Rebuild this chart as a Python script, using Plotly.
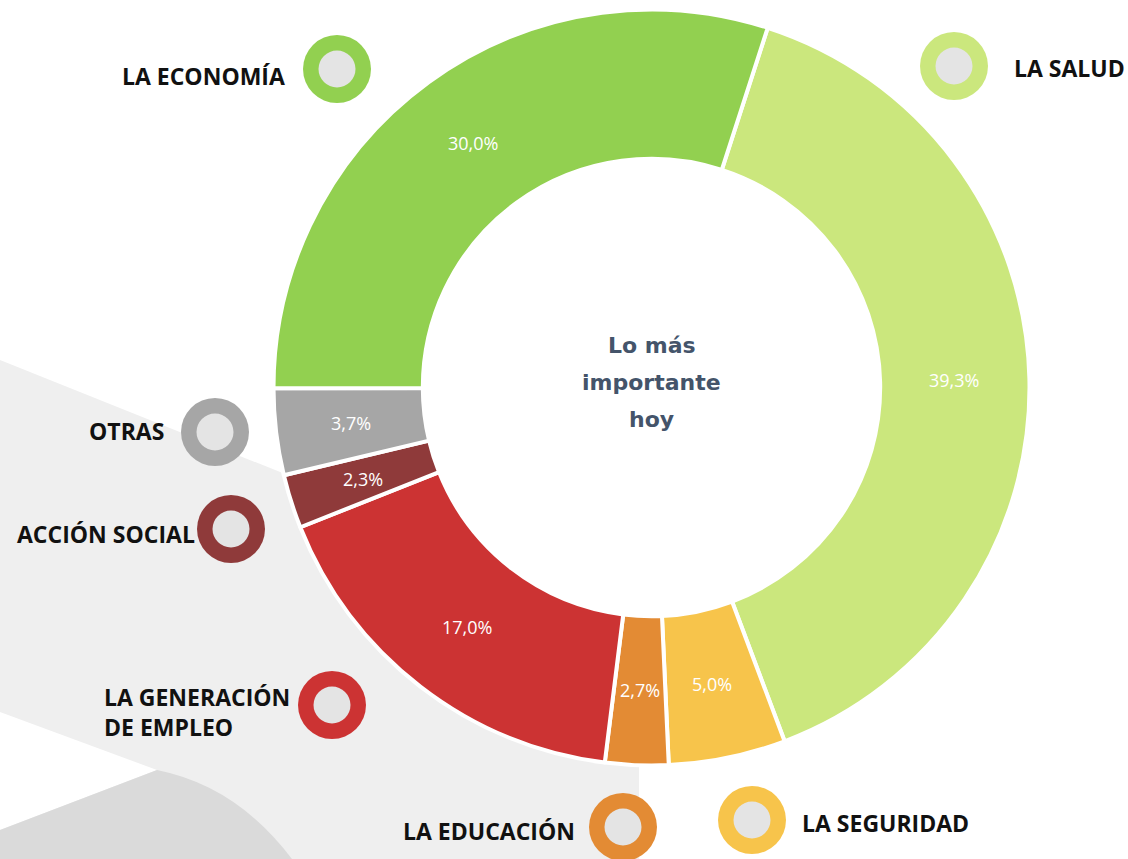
import math
import plotly.graph_objects as go

# ---- data (clockwise from the top) ----
categories = ["LA SALUD", "LA SEGURIDAD", "LA EDUCACIÓN", "LA GENERACIÓN<br>DE EMPLEO",
              "ACCIÓN SOCIAL", "OTRAS", "LA ECONOMÍA"]
values = [39.3, 5.0, 2.7, 17.0, 2.3, 3.7, 30.0]
colors = ["#cbe77d", "#f7c44b", "#e38b34", "#cc3333", "#8f3a3a", "#a6a6a6", "#92d050"]
center_lines = ["Lo más", "importante", "hoy"]

W, H = 1128, 859

# ---- layout positions (pixels) ----
CX, CY, R = 651.5, 387.5, 378
HOLE = 0.605
ROTATION = 17.9
ring_pos = [(954, 66), (752, 820), (623, 827), (332, 705), (231, 529), (215, 432), (337, 69)]
label_pos = [(1012, 68, "left"), (800, 823, "left"), (577, 831, "right"), (102, 712, "left"),
             (197, 534, "right"), (166, 431, "right"), (287, 76, "right")]
center_y = [345, 382, 419]

fig = go.Figure()

# hidden cartesian axes in pixel units for decorations
fig.add_trace(go.Scatter(x=[0, W], y=[0, H], mode="markers", marker=dict(opacity=0),
                         hoverinfo="skip", showlegend=False))

fig.add_trace(go.Pie(
    labels=categories, values=values, sort=False, direction="clockwise", rotation=ROTATION,
    hole=HOLE,
    marker=dict(colors=colors, line=dict(color="white", width=4)),
    textinfo="none",
    showlegend=False, hoverinfo="label+value",
    domain=dict(x=[(CX - R) / W, (CX + R) / W], y=[1 - (CY + R) / H, 1 - (CY - R) / H]),
))

shapes = [
    dict(type="path", path=f"M0,360 L420,528 L639,700 L639,{H} L0,{H} Z",
         fillcolor="#efefef", line=dict(width=0), layer="below"),
    dict(type="path", path="M0,712 L157,770 L0,830 Z",
         fillcolor="white", line=dict(width=0), layer="below"),
    dict(type="path", path=f"M157,770 Q237,786 292,{H} L0,{H} L0,830 Z",
         fillcolor="#dadada", line=dict(width=0), layer="below"),
]
for (x, y), c in zip(ring_pos, colors):
    shapes.append(dict(type="circle", x0=x - 34, x1=x + 34, y0=y - 34, y1=y + 34,
                       fillcolor=c, line=dict(width=0), layer="below"))
    shapes.append(dict(type="circle", x0=x - 18.5, x1=x + 18.5, y0=y - 18.5, y1=y + 18.5,
                       fillcolor="#e4e4e4", line=dict(width=0), layer="below"))

annotations = []
# percentage labels at the middle of each ring segment
total = sum(values)
r_out = R - 2
r_mid = (r_out + R * HOLE) / 2
cum = 0.0
for v in values:
    ang = math.radians(ROTATION + (cum + v / 2) / total * 360)
    cum += v
    annotations.append(dict(x=CX + r_mid * math.sin(ang), y=CY - r_mid * math.cos(ang),
                            xref="x", yref="y", text=f"{v:.1f}".replace(".", ",") + "%",
                            showarrow=False, xanchor="center", yanchor="middle",
                            font=dict(family="Open Sans", size=18, color="white")))

for cat, (x, y, anc) in zip(categories, label_pos):
    annotations.append(dict(x=x, y=y, xref="x", yref="y", text=cat, showarrow=False,
                            xanchor=anc, yanchor="middle", align="left",
                            font=dict(family="Open Sans", size=23, color="#111111", weight=700)))
for line, y in zip(center_lines, center_y):
    annotations.append(dict(x=CX, y=y, xref="x", yref="y", text=line, showarrow=False,
                            xanchor="center", yanchor="middle",
                            font=dict(family="DejaVu Sans", size=22, color="#44546a", weight=700)))

fig.update_layout(
    width=W, height=H, margin=dict(l=0, r=0, t=0, b=0),
    paper_bgcolor="white", plot_bgcolor="rgba(0,0,0,0)", separators=",.",
    xaxis=dict(range=[0, W], visible=False, fixedrange=True),
    yaxis=dict(range=[H, 0], visible=False, fixedrange=True),
    shapes=shapes, annotations=annotations, showlegend=False,
)

fig.write_html("out.html", config={"displayModeBar": False},
               post_script="document.body.style.margin='0';")
